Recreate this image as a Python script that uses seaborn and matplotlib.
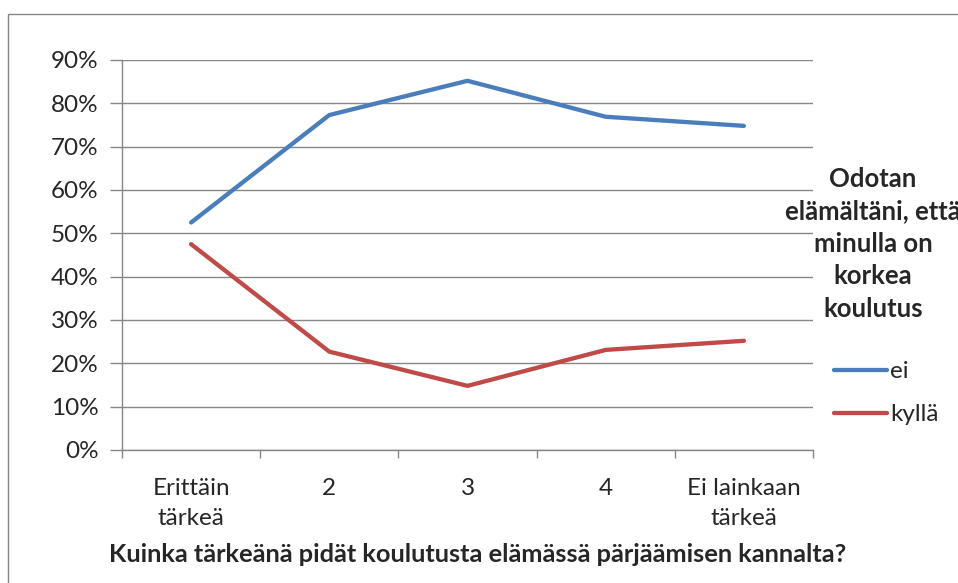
import numpy as np
import pandas as pd
import matplotlib
matplotlib.use("Agg")
import matplotlib.pyplot as plt
import seaborn as sns
from matplotlib.patches import Rectangle
from matplotlib.ticker import FixedLocator, PercentFormatter

# ---------------------------
# Data
# ---------------------------
categories = ["Erittäin\ntärkeä", "2", "3", "4", "Ei lainkaan\ntärkeä"]
ei = [0.525, 0.773, 0.852, 0.769, 0.748]
kylla = [0.475, 0.227, 0.148, 0.231, 0.252]
series_names = ["ei", "kyllä"]
colors = {"ei": "#4A7EBB", "kyllä": "#BE4B48"}

legend_title = "Odotan\nelämältäni, että\nminulla on\nkorkea\nkoulutus"
x_title = "Kuinka tärkeänä pidät koulutusta elämässä pärjäämisen kannalta?"

pos = np.arange(len(categories))
df = pd.DataFrame({
    "pos": np.concatenate([pos, pos]),
    "osuus": ei + kylla,
    "vastaus": [series_names[0]] * len(pos) + [series_names[1]] * len(pos),
})

# ---------------------------
# Figure
# ---------------------------
sns.set_style("white")
plt.rcParams["font.family"] = ["Lato", "DejaVu Sans"]
grid_col = "#868686"
fs = 17.5       # regular text
fs_bold = 18.5  # bold titles

fig = plt.figure(figsize=(9.58, 5.83), dpi=100)
ax = fig.add_axes([122 / 958, 1 - 450 / 583, (813 - 122) / 958, 390 / 583])

# outer chart frame (runs off the right and bottom edge)
fig.patches.append(Rectangle((8 / 958, -0.2), 2.0, 1.2 - 14 / 583,
                             transform=fig.transFigure, fill=False,
                             edgecolor=grid_col, linewidth=1.0))

sns.lineplot(data=df, x="pos", y="osuus", hue="vastaus", palette=colors,
             linewidth=3.1, sort=False, ax=ax, legend=False,
             solid_capstyle="round")

ax.set_xlim(-0.5, len(categories) - 0.5)
ax.set_ylim(0, 0.9)
ax.yaxis.set_major_locator(FixedLocator(np.arange(0, 0.91, 0.1)))
ax.yaxis.set_major_formatter(PercentFormatter(1.0, decimals=0))
ax.grid(axis="y", color=grid_col, linewidth=1.0)
ax.set_axisbelow(True)

# tick marks on category boundaries, labels in the middle
ax.set_xticks(np.arange(-0.5, len(categories), 1.0))
ax.set_xticklabels([])
ax.set_xticks(pos, minor=True)
ax.set_xticklabels(categories, minor=True, fontsize=fs, linespacing=1.55)
ax.tick_params(axis="x", which="major", length=6, width=1.0, color=grid_col,
               direction="out", bottom=True)
ax.tick_params(axis="x", which="minor", length=0, pad=20)
ax.tick_params(axis="y", length=9, width=1.0, color=grid_col, direction="out",
               left=True, labelsize=fs, pad=8)

for side in ["top", "right"]:
    ax.spines[side].set_visible(False)
for side in ["left", "bottom"]:
    ax.spines[side].set_color(grid_col)
    ax.spines[side].set_linewidth(1.0)

ax.set_xlabel("")
ax.set_ylabel("")
fig.text(478 / 958, 1 - 555 / 583, x_title, ha="center", va="center",
         fontsize=18.3, fontweight="bold")

# legend: title as its own text block, entries below
fig.text(873 / 958, 1 - 244 / 583, legend_title, ha="center", va="center",
         multialignment="center", fontsize=fs_bold, fontweight="bold",
         linespacing=1.42)
handles = [plt.Line2D([], [], color=colors[n], linewidth=3.1,
                      solid_capstyle="round") for n in series_names]
ax.legend(handles, series_names, loc="upper left",
          bbox_to_anchor=(834 / 958, 1 - 361 / 583),
          bbox_transform=fig.transFigure, frameon=False, fontsize=fs,
          handlelength=2.2, handletextpad=0.12, labelspacing=0.92,
          borderaxespad=0, borderpad=0)

fig.savefig("out.png", dpi=100)
